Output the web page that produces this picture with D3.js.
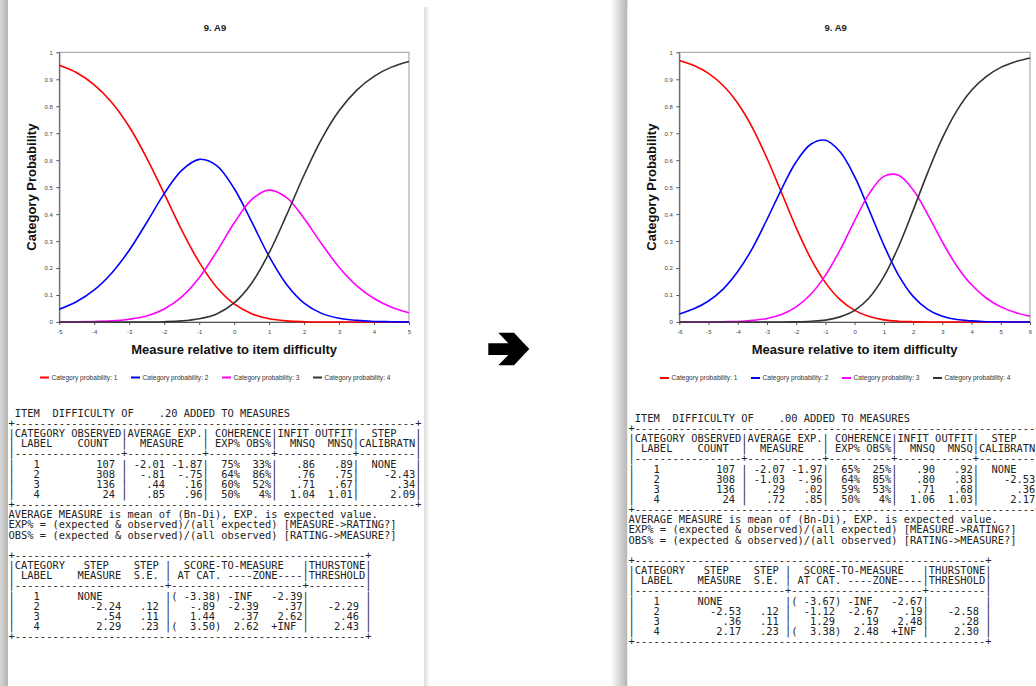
<!DOCTYPE html>
<html>
<head>
<meta charset="utf-8">
<script src="https://cdn.jsdelivr.net/npm/d3@7"></script>
<style>
  body { margin: 0; background: #fff; }
  svg { display: block; }
</style>
</head>
<body>
<svg id="chart" width="1036" height="686"></svg>
<script>
// ---------------- data ----------------
var titleText = "9. A9";
var xTitle = "Measure relative to item difficulty";
var yTitle = "Category Probability";
var categories = ["1", "2", "3", "4"];
var yTicks = [0, 0.1, 0.2, 0.3, 0.4, 0.5, 0.6, 0.7, 0.8, 0.9, 1];

// left chart (before)
var leftTicks = [-5, -4, -3, -2, -1, 0, 1, 2, 3, 4, 5];
var leftX = [-5, -4.5, -4, -3.5, -3, -2.5, -2, -1.5, -1, -0.5, 0, 0.5, 1, 1.5, 2, 2.5, 3, 3.5, 4, 4.5, 5];
var leftP1 = [.952, .924, .879, .814, .724, .608, .476, .341, .222, .129, .067, .031, .012, .004, .001, 0, 0, 0, 0, 0, 0];
var leftP2 = [.047, .076, .119, .182, .266, .369, .476, .562, .603, .580, .495, .372, .243, .139, .070, .032, .014, .006, .002, .001, 0];
var leftP3 = [0, .001, .002, .004, .010, .022, .048, .093, .164, .261, .367, .454, .489, .461, .384, .290, .203, .135, .087, .055, .034];
var leftP4 = [0, 0, 0, 0, 0, 0, .001, .004, .012, .030, .071, .144, .256, .397, .545, .678, .783, .859, .911, .945, .966];

// right chart (after)
var rightTicks = [-6, -5, -4, -3, -2, -1, 0, 1, 2, 3, 4, 5, 6];
var rightX = [-6, -5.5, -5, -4.5, -4, -3.5, -3, -2.5, -2, -1.5, -1, -0.5, 0, 0.5, 1, 1.5, 2, 2.5, 3, 3.5, 4, 4.5, 5, 5.5, 6];
var rightP1 = [.970, .951, .922, .877, .811, .721, .607, .479, .349, .235, .146, .083, .043, .020, .008, .003, .001, 0, 0, 0, 0, 0, 0, 0, 0];
var rightP2 = [.030, .049, .078, .122, .187, .273, .380, .493, .594, .659, .674, .631, .539, .414, .285, .174, .095, .047, .021, .009, .004, .001, .001, 0, 0];
var rightP3 = [0, 0, 0, .001, .002, .006, .013, .028, .056, .103, .173, .267, .376, .476, .540, .544, .490, .399, .297, .207, .138, .089, .056, .035, .021];
var rightP4 = [0, 0, 0, 0, 0, 0, 0, 0, .001, .003, .007, .019, .043, .090, .168, .279, .414, .554, .682, .784, .859, .910, .944, .965, .979];

// category structure tables
var leftDifficulty = ".20";
var leftCatRows = [
    ["1", "107", "-2.01", "-1.87", "75%", "33%", ".86", ".89", "NONE"],
    ["2", "308", "-.81", "-.75", "64%", "86%", ".76", ".75", "-2.43"],
    ["3", "136", ".44", ".16", "60%", "52%", ".71", ".67", ".34"],
    ["4", "24", ".85", ".96", "50%", "4%", "1.04", "1.01", "2.09"]
];
var leftStepRows = [
    ["1", "NONE", "", "-3.38", true, "-INF", "-2.39", ""],
    ["2", "-2.24", ".12", "-.89", false, "-2.39", ".37", "-2.29"],
    ["3", ".54", ".11", "1.44", false, ".37", "2.62", ".46"],
    ["4", "2.29", ".23", "3.50", true, "2.62", "+INF", "2.43"]
];

var rightDifficulty = ".00";
var rightCatRows = [
    ["1", "107", "-2.07", "-1.97", "65%", "25%", ".90", ".92", "NONE"],
    ["2", "308", "-1.03", "-.96", "64%", "85%", ".80", ".83", "-2.53"],
    ["3", "136", ".29", ".02", "59%", "53%", ".71", ".68", ".36"],
    ["4", "24", ".72", ".85", "50%", "4%", "1.06", "1.03", "2.17"]
];
var rightStepRows = [
    ["1", "NONE", "", "-3.67", true, "-INF", "-2.67", ""],
    ["2", "-2.53", ".12", "-1.12", false, "-2.67", ".19", "-2.58"],
    ["3", ".36", ".11", "1.29", false, ".19", "2.48", ".28"],
    ["4", "2.17", ".23", "3.38", true, "2.48", "+INF", "2.30"]
];

var notes = [
    "AVERAGE MEASURE is mean of (Bn-Di), EXP. is expected value.",
    "EXP% = (expected & observed)/(all expected) [MEASURE->RATING?]",
    "OBS% = (expected & observed)/(all observed) [RATING->MEASURE?]"
];

// ---------------- drawing ----------------
var colors = ["#ff0000", "#0000ff", "#ff00ff", "#333333"];
var mono = "'DejaVu Sans Mono', 'Liberation Mono', monospace";
var sans = "Arial, 'Liberation Sans', Helvetica, sans-serif";

var svg = d3.select("#chart");
svg.append("rect").attr("width", 1036).attr("height", 686).attr("fill", "#fff");

var defs = svg.append("defs");
var grad = defs.append("linearGradient").attr("id", "shadowL");
grad.append("stop").attr("offset", "0%").attr("stop-color", "#ffffff");
grad.append("stop").attr("offset", "100%").attr("stop-color", "#b4b4b4");
var grad2 = defs.append("linearGradient").attr("id", "shadowR");
grad2.append("stop").attr("offset", "0%").attr("stop-color", "#dcdcdc");
grad2.append("stop").attr("offset", "100%").attr("stop-color", "#ffffff");

function padL(s, n) {
    s = String(s);
    while (s.length < n) s = " " + s;
    return s;
}
function dashes(n) { return "-".repeat(n); }

function catRow(r) {
    var step = r[8] === "NONE" ? "  NONE   " : padL(r[8], 9);
    return "|" + padL(r[0], 4) + padL(r[1], 12) + " |" + padL(r[2], 6) + padL(r[3], 6) + "|" +
        padL(r[4], 5) + padL(r[5], 5) + "|" + padL(r[6], 6) + padL(r[7], 6) + "|" + step + "|";
}

function stepRow(r) {
    var meas = r[1] === "NONE" ? padL("NONE", 10) + "   " : padL(r[1], 13);
    var at = r[4] ? "(" + padL(r[3], 6) + ")" : " " + padL(r[3], 6) + " ";
    var lo = r[5] === "-INF" ? " -INF " : padL(r[5], 6);
    var hi = r[6] === "+INF" ? "  +INF " : padL(r[6], 7);
    return "|" + padL(r[0], 4) + meas + padL(r[2], 6) + " |" + at + lo + hi + "|" + padL(r[7], 8) + " |";
}

function tableLines(difficulty, catRows, stepRows) {
    var border1 = "+" + dashes(64) + "+";
    var border2 = "+" + dashes(56) + "+";
    var lines = [
        " ITEM  DIFFICULTY OF" + padL(difficulty, 7) + " ADDED TO MEASURES",
        border1,
        "|CATEGORY OBSERVED|AVERAGE EXP.| COHERENCE|INFIT OUTFIT|  STEP   |",
        "| LABEL    COUNT  |  MEASURE   | EXP% OBS%|  MNSQ  MNSQ|CALIBRATN|",
        "|" + dashes(17) + "+" + dashes(12) + "+" + dashes(10) + "+" + dashes(12) + "+" + dashes(9) + "|"
    ];
    catRows.forEach(function (r) { lines.push(catRow(r)); });
    lines.push(border1);
    notes.forEach(function (n) { lines.push(n); });
    lines.push("");
    lines.push(border2);
    lines.push("|CATEGORY   STEP    STEP |  SCORE-TO-MEASURE   |THURSTONE|");
    lines.push("| LABEL    MEASURE  S.E. | AT CAT. ----ZONE----|THRESHOLD|");
    lines.push("|" + dashes(24) + "+" + dashes(21) + "+" + dashes(9) + "|");
    stepRows.forEach(function (r) { lines.push(stepRow(r)); });
    lines.push(border2);
    return lines;
}

function drawPanel(p) {
    var g = svg.append("g");

    // paper with a soft shadow on its left edge
    g.append("rect").attr("x", p.paperX - 17).attr("y", 0).attr("width", 17).attr("height", 686)
        .attr("fill", "url(#shadowL)");
    g.append("rect").attr("x", p.paperX).attr("y", 7).attr("width", p.paperW).attr("height", 700)
        .attr("fill", "#fff");
    g.append("rect").attr("x", p.paperX + p.paperW).attr("y", 7).attr("width", 6).attr("height", 700)
        .attr("fill", "url(#shadowR)");

    var x = d3.scaleLinear().domain([p.ticks[0], p.ticks[p.ticks.length - 1]]).range([p.left, p.right]);
    var y = d3.scaleLinear().domain([0, 1]).range([p.bottom, p.top]);

    // title
    g.append("text")
        .attr("x", p.titleX).attr("y", 30.5)
        .attr("text-anchor", "middle")
        .style("font-family", sans).style("font-size", "9.5px").style("font-weight", "bold")
        .attr("fill", "#222")
        .text(titleText);

    // frame
    g.append("rect")
        .attr("x", p.left).attr("y", p.top)
        .attr("width", p.right - p.left).attr("height", p.bottom - p.top)
        .attr("fill", "none").attr("stroke", "#9a9a9a").attr("stroke-width", 1);

    // axes
    var xa = g.append("g")
        .attr("transform", "translate(0," + p.bottom + ")")
        .call(d3.axisBottom(x).tickValues(p.ticks).tickSize(3).tickSizeOuter(0).tickPadding(5)
            .tickFormat(function (d) { return String(d); }));
    var ya = g.append("g")
        .attr("transform", "translate(" + p.left + ",0)")
        .call(d3.axisLeft(y).tickValues(yTicks).tickSize(3).tickSizeOuter(0).tickPadding(3.5)
            .tickFormat(function (d) { return String(d); }));
    [xa, ya].forEach(function (a) {
        a.attr("font-family", sans).attr("font-size", 6);
        a.selectAll("text").attr("fill", "#444");
        a.selectAll("line").attr("stroke", "#555");
        a.select(".domain").attr("stroke", "#555");
    });

    // curves
    var line = d3.line()
        .x(function (d) { return x(d[0]); })
        .y(function (d) { return y(d[1]); })
        .curve(d3.curveCatmullRom.alpha(0.5));
    p.series.forEach(function (vals, i) {
        g.append("path")
            .datum(p.xs.map(function (v, j) { return [v, vals[j]]; }))
            .attr("d", line)
            .attr("fill", "none")
            .attr("stroke", colors[i])
            .attr("stroke-width", 1.6)
            .attr("stroke-linejoin", "round");
    });

    // axis titles
    g.append("text")
        .attr("x", (p.left + p.right) / 2).attr("y", p.bottom + 31.5)
        .attr("text-anchor", "middle")
        .style("font-family", sans).style("font-size", "13px").style("font-weight", "bold")
        .attr("fill", "#111")
        .text(xTitle);
    g.append("text")
        .attr("transform", "translate(" + p.yTitleX + "," + ((p.top + p.bottom) / 2) + ")rotate(-90)")
        .attr("text-anchor", "middle")
        .style("font-family", sans).style("font-size", "13px").style("font-weight", "bold")
        .attr("fill", "#111")
        .text(yTitle);

    // legend
    var leg = g.selectAll(".leg")
        .data(categories)
        .enter()
        .append("g")
        .attr("transform", function (d, i) { return "translate(" + (p.legendX + i * 91) + "," + p.legendY + ")"; });
    leg.append("line")
        .attr("x1", 0).attr("x2", 9).attr("y1", 0).attr("y2", 0)
        .attr("stroke", function (d, i) { return colors[i]; })
        .attr("stroke-width", 2);
    leg.append("text")
        .attr("x", 11.5).attr("y", 2.4)
        .style("font-family", sans).style("font-size", "6.6px")
        .attr("fill", "#333")
        .text(function (d) { return "Category probability: " + d; });

    // monospace tables
    var lines = tableLines(p.difficulty, p.catRows, p.stepRows);
    g.selectAll(".tline")
        .data(lines)
        .enter()
        .append("text")
        .attr("x", p.textX)
        .attr("y", function (d, i) { return p.textY + i * 10.15; })
        .attr("xml:space", "preserve")
        .style("white-space", "pre")
        .style("font-family", mono)
        .style("font-size", "10.4px")
        .attr("fill", "#222")
        .text(function (d) { return d; });
}

drawPanel({
    paperX: 8, paperW: 416,
    left: 59.3, right: 409, top: 52.3, bottom: 322,
    titleX: 215, yTitleX: 36,
    legendX: 40, legendY: 377.5,
    ticks: leftTicks, xs: leftX, series: [leftP1, leftP2, leftP3, leftP4],
    textX: 8.6, textY: 416.8,
    difficulty: leftDifficulty, catRows: leftCatRows, stepRows: leftStepRows
});

drawPanel({
    paperX: 627.5, paperW: 420,
    left: 679.3, right: 1030, top: 52.3, bottom: 322,
    titleX: 835.7, yTitleX: 655.5,
    legendX: 660, legendY: 378,
    ticks: rightTicks, xs: rightX, series: [rightP1, rightP2, rightP3, rightP4],
    textX: 628.6, textY: 421.8,
    difficulty: rightDifficulty, catRows: rightCatRows, stepRows: rightStepRows
});

// arrow between the two panels
svg.append("path")
    .attr("d", "M488.3,343.3 L508.3,343.3 L498.3,332.7 L514,332.7 L529.3,349 L514,365.3 L498.3,365.3 L508.3,355 L488.3,355 Z")
    .attr("fill", "#000");
</script>
</body>
</html>
